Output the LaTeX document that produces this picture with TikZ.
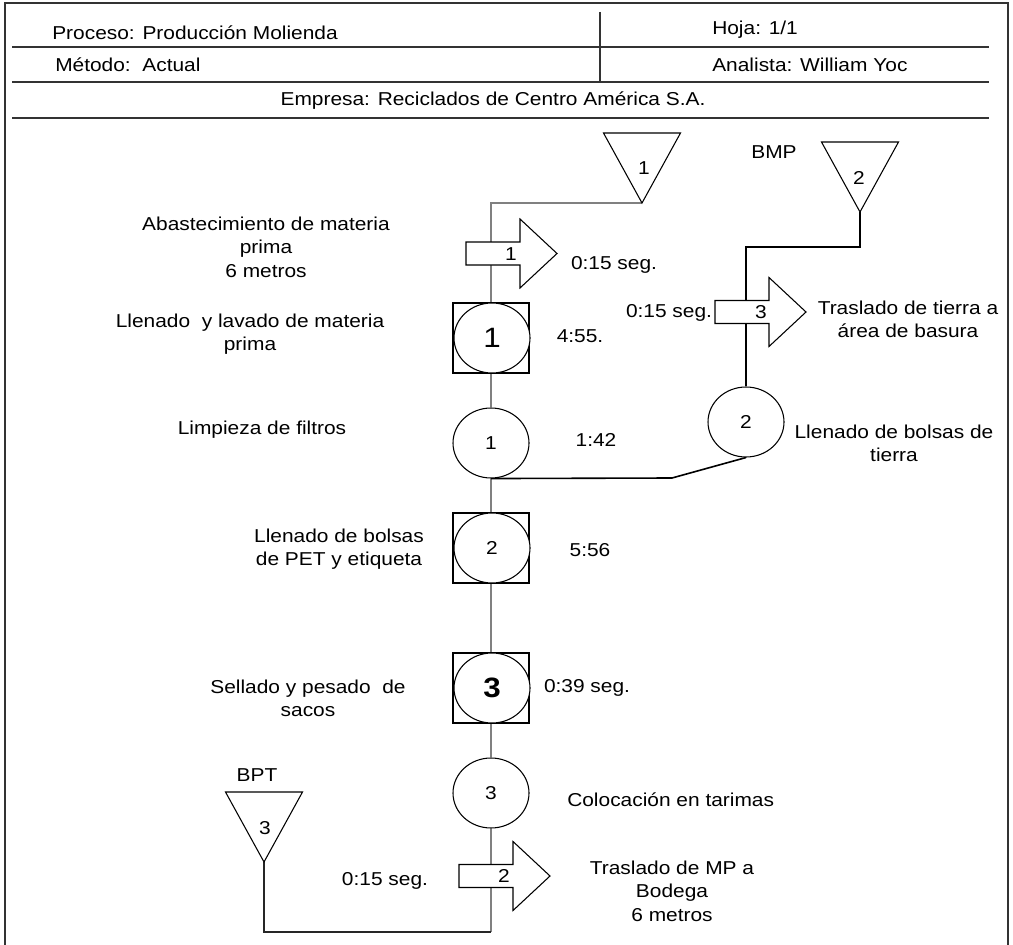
\documentclass[tikz,border=0pt]{standalone}
\usepackage{fontspec}
\setmainfont{Liberation Sans}[FakeStretch=1.12]
\usetikzlibrary{shapes.geometric,backgrounds,calc}
\begin{document}
\begin{tikzpicture}[x=0.75pt,y=-0.75pt,
  every node/.style={font=\fontsize{14}{17.5}\selectfont, inner sep=0pt, text=black},
  txt/.style={align=center},
  frame/.style={line width=1.5pt, draw=black!80},
  rule/.style={line width=1.1pt, draw=black!80},
  flow/.style={line width=1pt, draw=black!50},
  link/.style={line width=1.2pt, draw=black},
  thinlink/.style={line width=0.9pt, draw=black!85},
  opcirc/.style={ellipse, draw, line width=0.8pt, minimum width=57pt, minimum height=52.5pt, fill=white},
  opsq/.style={rectangle, draw, line width=1.3pt, minimum width=57pt, minimum height=52.5pt, fill=white},
  bignum/.style={font=\fontsize{21}{21}\selectfont},
  traslado/.pic={\draw[line width=0.8pt, fill=white]
      (0,-11.5) -- (54,-11.5) -- (54,-34.5) -- (91,0) -- (54,34.5) -- (54,11.5) -- (0,11.5) -- cycle;},
  almacen/.pic={\draw[line width=0.8pt, fill=white]
      (-38.5,-35) -- (38.5,-35) -- (0,35) -- cycle;
      \coordinate (-apex) at (0,35);}
]
\useasboundingbox (0,0) rectangle (1013,945);

% ---------- sheet frame and header ----------
\draw[frame] (5,945) -- (5,3) -- (1008,3) -- (1008,945);
\draw[rule] (12,47) -- (989,47);
\draw[rule] (12,82) -- (989,82);
\draw[rule] (12,118) -- (989,118);
\draw[line width=0.8pt, draw=black!80] (600,12) -- (600,82);

\node[anchor=west] (hproc) at (52,33) {Proceso: Producción Molienda};
\node[anchor=west] (hmet) at (55,65) {Método:\ \ Actual};
\node[anchor=west] (hhoja) at (712,30) {Hoja: 1/1};
\node[anchor=west] (hanal) at (712,65) {Analista: William Yoc};
\node (hemp) at (493,101) {Empresa: Reciclados de Centro América S.A.};

% ---------- storage symbols ----------
\pic (t1) at (642,168) {almacen};
\node (t1n) at (644,168) {1};
\pic (t2) at (860,177) {almacen};
\node (t2n) at (859,178) {2};
\pic (t3) at (264,827) {almacen};
\node (t3n) at (265,828) {3};
\node (bmp) at (774,152) {BMP};
\node (bpt) at (257,775) {BPT};

% ---------- transport arrows ----------
\pic (a1) at (466,253.5) {traslado};
\node (a1n) at (511,254) {1};
\pic (a3) at (715,312) {traslado};
\node (a3n) at (761,312) {3};
\pic (a2) at (459,876) {traslado};
\node (a2n) at (504,876) {2};

% ---------- operations ----------
\node[opsq] (b1) at (491,338) {};
\node[opcirc, bignum] (b1c) at (492,338) {1};
\node[opcirc] (c1) at (491,443) {1};
\node[opsq] (b2) at (491,548) {};
\node[opcirc] (b2c) at (492,548) {2};
\node[opsq] (b3) at (491,688) {};
\node[opcirc, bignum] (b3c) at (492,688) {\bfseries 3};
\node[opcirc] (c3) at (491,793) {3};
\node[opcirc] (c2) at (746,422) {2};

% ---------- connectors (behind the symbols) ----------
\coordinate (k1) at (672,478);
\coordinate (k2) at (860,247);
\coordinate (k3) at (491,932);
\begin{scope}[on background layer]
  \draw[flow] (t1-apex) -| (b1.north);
  \draw[flow] (b1.south) -- (c1.north);
  \draw[flow] (c1.south) -- (b2.north);
  \draw[flow] (b2.south) -- (b3.north);
  \draw[flow] (b3.south) -- (c3.north);
  \draw[flow] (c3.south) -- (k3);
  \draw[thinlink] (k3) -| (t3-apex);
  \draw[link] (c1.south) -- (k1) -- (c2.south);
  \draw[link] (c2.north) |- (k2) -- (t2-apex);
\end{scope}

% ---------- descriptions ----------
\node[txt] (d1) at (266,247) {Abastecimiento de materia\\prima\\6 metros};
\node[txt] (d2) at (250,334) {Llenado\ \ y lavado de materia\\prima};
\node[txt] (d3) at (262,430) {Limpieza de filtros};
\node[txt] (d4) at (339,549) {Llenado de bolsas\\de PET y etiqueta};
\node[txt] (d5) at (308,698) {Sellado y pesado\ \ de\\sacos};
\node[txt] (d6) at (908,319) {Traslado de tierra a\\área de basura};
\node[txt] (d7) at (894,443) {Llenado de bolsas de\\tierra};
\node[anchor=west] (d8) at (567,800) {Colocación en tarimas};
\node[txt] (d9) at (672,891) {Traslado de MP a\\Bodega\\6 metros};

% ---------- times ----------
\node (m1) at (614,265) {0:15 seg.};
\node (m2) at (580,336) {4:55.};
\node (m3) at (596,440) {1:42};
\node (m4) at (590,550) {5:56};
\node (m5) at (587,688) {0:39 seg.};
\node (m6) at (669,313) {0:15 seg.};
\node (m7) at (385,881) {0:15 seg.};
\end{tikzpicture}
\end{document}
